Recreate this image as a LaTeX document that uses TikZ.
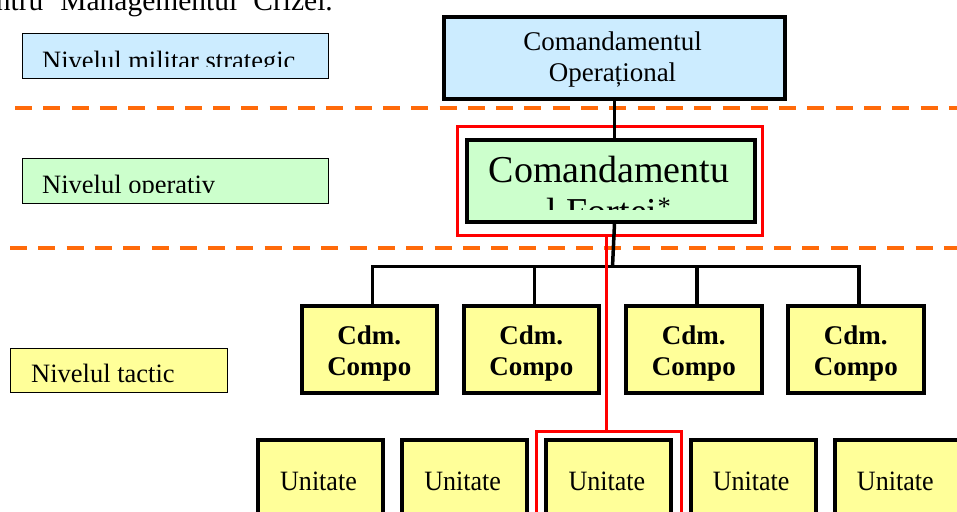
\documentclass[tikz,border=0pt]{standalone}
\usepackage{fontspec}
\setmainfont{Liberation Serif}
\newfontfamily\unitfont[FakeStretch=0.93]{Liberation Serif}
\definecolor{skyfill}{RGB}{204,236,255}
\definecolor{mintfill}{RGB}{204,255,204}
\definecolor{lemonfill}{RGB}{255,255,153}
\definecolor{levelline}{RGB}{255,106,10}
\begin{document}
\begin{tikzpicture}[x=1pt,y=-1pt,
  levelbox/.style={draw=black, line width=1.2pt, inner sep=0pt, anchor=north west,
                   minimum width=306pt, minimum height=45pt},
  leveltext/.style={inner sep=0pt, anchor=base west, font=\fontsize{26.5}{30}\selectfont},
  hqbox/.style={draw=black, line width=4pt, inner sep=0pt, anchor=north west},
  compbox/.style={hqbox, fill=lemonfill, minimum width=135.5pt, minimum height=87pt},
  comptext/.style={inner sep=0pt, anchor=base, align=center,
                   font=\fontsize{27}{31.7}\selectfont\bfseries},
  unitbox/.style={hqbox, fill=lemonfill, minimum width=125pt, minimum height=100pt},
  unittext/.style={inner sep=0pt, anchor=base, font=\fontsize{28}{30}\unitfont},
  separator/.style={draw=levelline, line width=4pt, dash pattern=on 17pt off 11.3pt},
  treelink/.style={draw=black, line width=3.5pt},
  focusframe/.style={draw=red, line width=3pt, inner sep=0pt, anchor=north west},
  focuslink/.style={draw=red, line width=3pt},
]
\useasboundingbox (0,0) rectangle (957,511);
\clip (0,0) rectangle (957,511);

% heading line of the page
\node[inner sep=0pt, anchor=base east, font=\fontsize{29.5}{32}\selectfont] (title)
  at (333,10.5) {pentru\hspace{17pt}Managementul\hspace{16pt}Crizei.};

% separators between command levels
\draw[separator] (15,108) -- (970,108);
\draw[separator] (10,248) -- (970,248);

% level labels on the left
\node[levelbox, fill=skyfill] (lvlS) at (21.6,32.6) {};
\begin{scope}
  \clip (22,33) rectangle (327,66.7);
  \node[leveltext] (lvlSt) at (42,69.3) {Nivelul militar strategic};
\end{scope}
\node[levelbox, fill=mintfill] (lvlO) at (21.6,157.6) {};
\begin{scope}
  \clip (22,158) rectangle (327,192);
  \node[leveltext] (lvlOt) at (42,193.6) {Nivelul operativ};
\end{scope}
\node[levelbox, fill=lemonfill, minimum width=217pt, minimum height=44pt] (lvlT) at (9.6,347.6) {};
\node[leveltext] (lvlTt) at (31,382) {Nivelul tactic};

% highlighted force command frame
\node[focusframe, minimum width=305.7pt, minimum height=109.4pt] (forcefocus) at (455.5,124.8) {};

% operational command
\node[hqbox, fill=skyfill, minimum width=341pt, minimum height=82pt] (opcmd) at (442,15) {};
\node[inner sep=0pt, anchor=base, align=center, font=\fontsize{27}{30.3}\selectfont] (opcmdt)
  at (612.5,81) {Comandamentul\\Operațional};

% force command
\node[hqbox, fill=mintfill, minimum width=288.3pt, minimum height=81.7pt] (forcecmd) at (464.7,138) {};
\begin{scope}
  \clip (466,140) rectangle (751,209.3);
  \node[inner sep=0pt, anchor=base, align=center, font=\fontsize{38}{42}\selectfont] (forcecmdt)
    at (609,224.7) {Comandamentu\\l Forței\textsuperscript{*}};
\end{scope}

% component commands
\node[compbox] (c1) at (299.5,303.7) {};
\node[compbox] (c2) at (461.5,303.7) {};
\node[compbox] (c3) at (624,303.7) {};
\node[compbox] (c4) at (786,303.7) {};
\foreach \n in {1,...,4}
  \node[comptext] (c\n t) at ([yshift=19pt]c\n.south) {Cdm.\\Compo};

% units
\foreach \n [evaluate=\n as \lx using 256+144.2*(\n-1)] in {1,...,5}{
  \node[unitbox] (u\n) at (\lx,438) {};
  \node[unittext] (u\n t) at (\lx+62.5,490) {Unitate};
}

% highlighted unit frame
\node[focusframe, minimum width=145.7pt, minimum height=100pt] (unitfocus) at (534.5,429.5) {};

% command links
\coordinate (bus) at (612.5,266.7);
\draw[treelink] (opcmd.south) -- (opcmd.south |- forcecmd.north);
\draw[treelink] (opcmd.south |- forcecmd.south) -- (bus);
\foreach \n in {1,...,4}
  \coordinate (d\n) at ([xshift=3pt]c\n.north);
\draw[treelink] (d1) -- (d1 |- bus) -- (d4 |- bus) -- (d4);
\draw[treelink] (d2) -- (d2 |- bus);
\draw[treelink] (d3) -- (d3 |- bus);

% highlighted chain down to the unit
\draw[focuslink] ([xshift=-3.35pt]forcefocus.south) -- ([xshift=-3.35pt]forcefocus.south |- unitfocus.north);
\end{tikzpicture}
\end{document}
